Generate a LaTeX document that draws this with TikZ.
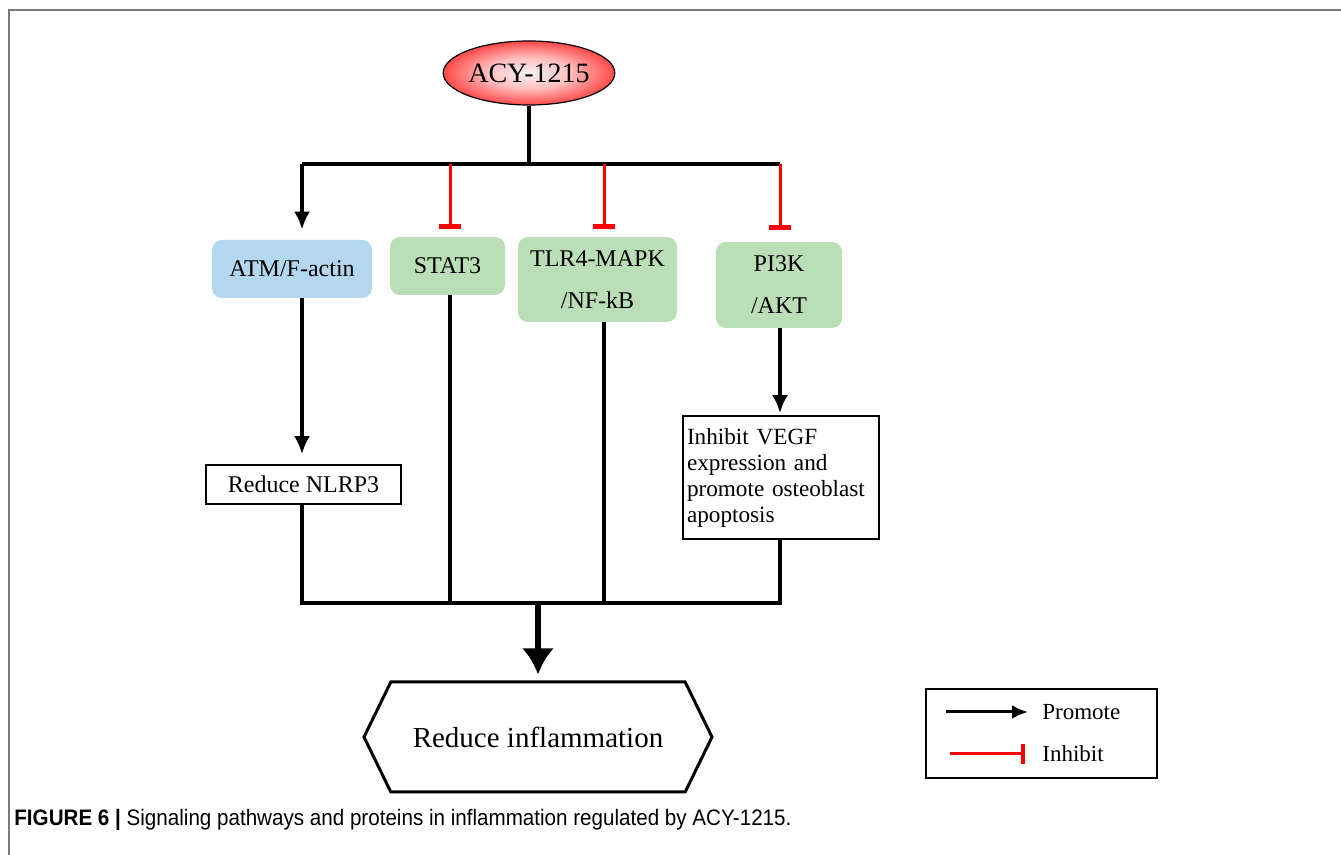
\documentclass[tikz,border=0pt]{standalone}
\usepackage{fontspec}
\setmainfont{Liberation Serif}
\newfontfamily\capfont[FakeStretch=0.92]{Liberation Sans}
\usepackage{tikz}
\usetikzlibrary{arrows.meta, shapes.geometric, shapes.symbols}
\definecolor{boxblue}{HTML}{B3D7EE}
\definecolor{boxgreen}{HTML}{BADFB6}
\definecolor{acyred}{HTML}{EC1C24}
\definecolor{framegray}{HTML}{7A7A7A}
\pgfdeclareradialshading{acyshade}{\pgfpoint{0bp}{0bp}}{%
    color(0bp)=(red!5!gray!10!white); color(12bp)=(red!25);
    color(26bp)=(red!75); color(38bp)=(acyred); color(50bp)=(acyred)}

\begin{document}
\begin{tikzpicture}[
    x=0.5pt, y=-0.5pt,
    pathbox/.style={
        rounded corners=5pt, inner sep=0pt,
        align=center, font=\fontsize{12}{21}\selectfont
    },
    bluebox/.style={pathbox, fill=boxblue},
    greenbox/.style={pathbox, fill=boxgreen},
    effectbox/.style={draw, line width=0.8pt, inner sep=0pt},
    link/.style={line width=2pt},
    promote/.style={link, -{Latex[length=9pt,width=8pt]}},
    inhibit/.style={red, line width=1.5pt, -{Bar[width=11pt,line width=2.5pt]}}
]
\useasboundingbox (0,0) rectangle (1341,855);

% Marco
\draw[framegray, line width=1pt] (9,855) -- (9,10) -- (1341,10);

% Farmaco (arriba)
\node[ellipse, draw, line width=0.6pt, inner sep=0pt,
      minimum width=80pt, minimum height=32pt, shading=acyshade,
      font=\fontsize{14}{16}\selectfont] (acy) at (529,73) {ACY-1215};

% Vias de senalizacion
\node[bluebox, minimum width=80pt, minimum height=29pt] (atm) at (292,269) {ATM/F-actin};
\node[greenbox, minimum width=57.5pt, minimum height=29pt] (stat) at (447.5,266) {STAT3};
\node[greenbox, minimum width=79.5pt, minimum height=42.5pt] (tlr) at (597.5,279.5) {TLR4-MAPK\\/NF-kB};
\node[greenbox, minimum width=63pt, minimum height=43pt] (pik) at (779,285) {PI3K\\/AKT};

% Efectos intermedios
\node[effectbox, minimum width=97.5pt, minimum height=19.5pt,
      font=\fontsize{12}{14}\selectfont] (nlrp) at (303.5,484.5) {Reduce NLRP3};
\node[effectbox, minimum width=98pt, minimum height=61.5pt, align=left,
      text width=94pt, font=\fontsize{11.6}{13}\selectfont] (vegf) at (781,477.5)
      {Inhibit VEGF\\expression and\\promote osteoblast\\apoptosis};

% Resultado final
\node[signal, signal to=west and east, signal pointer angle=128,
      draw, line width=1.5pt, inner sep=0pt,
      minimum width=174pt, minimum height=55pt,
      font=\fontsize{14.5}{16}\selectfont] (res) at (538,737) {Reduce inflammation};

% Puntos de las barras
\coordinate (top) at (529,164);
\coordinate (t1) at (302,164);
\coordinate (t2) at (450,164);
\coordinate (t3) at (604,164);
\coordinate (t4) at (780,164);
\coordinate (b1) at (302,603);
\coordinate (b2) at (450,603);
\coordinate (b3) at (604,603);
\coordinate (b4) at (780,603);
\coordinate (bm) at (538,603);

% Barra superior
\draw[link] (acy.south) -- (top);
\draw[link] (t1) -- (t4);
\draw[promote, shorten >=5pt] (t1) -- (t1 |- atm.north);
\draw[inhibit, shorten >=4pt] (t2) -- (t2 |- stat.north);
\draw[inhibit, shorten >=4pt] (t3) -- (t3 |- tlr.north);
\draw[inhibit, shorten >=6pt] (t4) -- (t4 |- pik.north);

% Hacia los efectos
\draw[promote, shorten >=5pt] (t1 |- atm.south) -- (nlrp.north -| t1);
\draw[promote, shorten >=1pt] (t4 |- pik.south) -- (vegf.north -| t4);

% Barra inferior
\draw[link] (nlrp.south -| b1) -- (b1) -- (b4) -- (vegf.south -| b4);
\draw[link] (b2 |- stat.south) -- (b2);
\draw[link] (b3 |- tlr.south) -- (b3);
\draw[line width=3pt, -{Latex[length=13pt,width=16pt]}, shorten >=3pt] (bm) -- (res.north);

% Leyenda
\node[draw, line width=0.8pt, minimum width=115.5pt, minimum height=44.5pt] (leg) at (1041.5,733.5) {};
\coordinate (p1) at (946,712);
\coordinate (p2) at (1028,712);
\coordinate (i1) at (950,754);
\coordinate (i2) at (1025,754);
\draw[line width=1.5pt, -{Latex[length=8pt,width=7pt]}] (p1) -- (p2);
\draw[red, line width=1.5pt, -{Bar[width=10pt,line width=2pt]}] (i1) -- (i2);
\node[anchor=west, inner sep=0pt, font=\fontsize{11.5}{13}\selectfont] (promtxt) at (1042,712) {Promote};
\node[anchor=west, inner sep=0pt, font=\fontsize{11.5}{13}\selectfont] (inhtxt) at (1042,754) {Inhibit};

% Pie de figura
\node[anchor=base west, inner sep=0pt, font=\capfont\fontsize{11.2}{13}\selectfont] (caption) at (14,826)
    {\textbf{FIGURE 6 |} Signaling pathways and proteins in inflammation regulated by ACY-1215.};

\end{tikzpicture}
\end{document}
